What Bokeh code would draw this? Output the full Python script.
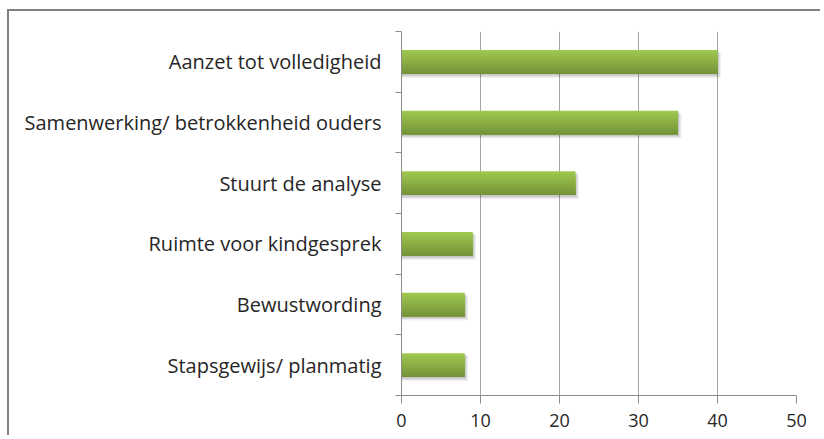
from bokeh.plotting import figure
from bokeh.models import FixedTicker, Range1d
from bokeh.embed import file_html
from bokeh.resources import INLINE

categories = ["Aanzet tot volledigheid",
              "Samenwerking/ betrokkenheid ouders",
              "Stuurt de analyse",
              "Ruimte voor kindgesprek",
              "Bewustwording",
              "Stapsgewijs/ planmatig"]
values = [40, 35, 22, 9, 8, 8]
x_ticks = [0, 10, 20, 30, 40, 50]

n = len(categories)
ypos = [n - i - 0.5 for i in range(n)]

p = figure(width=813, height=426, output_backend="svg", toolbar_location=None,
           x_range=Range1d(0, 50), y_range=Range1d(0, n),
           min_border_left=392, min_border_right=26, min_border_top=20, min_border_bottom=42)
p.styles = {"margin-left": "7px", "margin-top": "9px",
            "border-left": "2px solid #808080", "border-top": "2px solid #808080"}
p.outline_line_color = None
p.background_fill_color = "white"
p.border_fill_color = "white"

# shadow
bh = 0.39
for dx, dy, a in [(0.45, 0.06, 0.06), (0.3, 0.04, 0.08), (0.15, 0.02, 0.1)]:
    p.hbar(y=[y - dy for y in ypos], left=0, right=[v + dx for v in values], height=bh + 0.02,
           fill_color="black", fill_alpha=a, line_color=None)

# gradient bar via layered bars anchored at the bar bottom
top = (0xA0, 0xC8, 0x50)
bot = (0x74, 0x93, 0x38)
N = 16
for s in range(N):
    t = s / (N - 1)
    c = tuple(int(round(top[j] + (bot[j] - top[j]) * t)) for j in range(3))
    col = "#%02x%02x%02x" % c
    h = bh * (N - s) / N
    p.hbar(y=[y - bh / 2 + h / 2 for y in ypos], left=0, right=values, height=h,
           fill_color=col, line_color=None)

# grid
p.xgrid.ticker = FixedTicker(ticks=x_ticks)
p.xgrid.grid_line_color = "#a6a6a6"
p.xgrid.grid_line_width = 1
p.ygrid.grid_line_color = None

ax = p.xaxis[0]
ax.ticker = FixedTicker(ticks=x_ticks)
ax.axis_line_color = "#8c8c8c"
ax.major_tick_line_color = "#8c8c8c"
ax.major_tick_out = 8
ax.major_tick_in = 0
ax.minor_tick_line_color = None
ax.major_label_standoff = 10
ax.major_label_text_font = "Open Sans"
ax.major_label_text_font_size = "18px"
ax.major_label_text_color = "#262626"

ay = p.yaxis[0]
ay.ticker = FixedTicker(ticks=ypos, minor_ticks=list(range(n + 1)))
ay.major_label_overrides = {y: c for y, c in zip(ypos, categories)}
ay.axis_line_color = "#8c8c8c"
ay.major_tick_line_color = None
ay.major_tick_out = 0
ay.major_tick_in = 0
ay.minor_tick_line_color = "#8c8c8c"
ay.minor_tick_out = 6
ay.minor_tick_in = 0
ay.major_label_standoff = 14
ay.major_label_text_font = "Open Sans"
ay.major_label_text_font_size = "20px"
ay.major_label_text_color = "#262626"

open("out.html", "w").write(file_html(p, INLINE))
